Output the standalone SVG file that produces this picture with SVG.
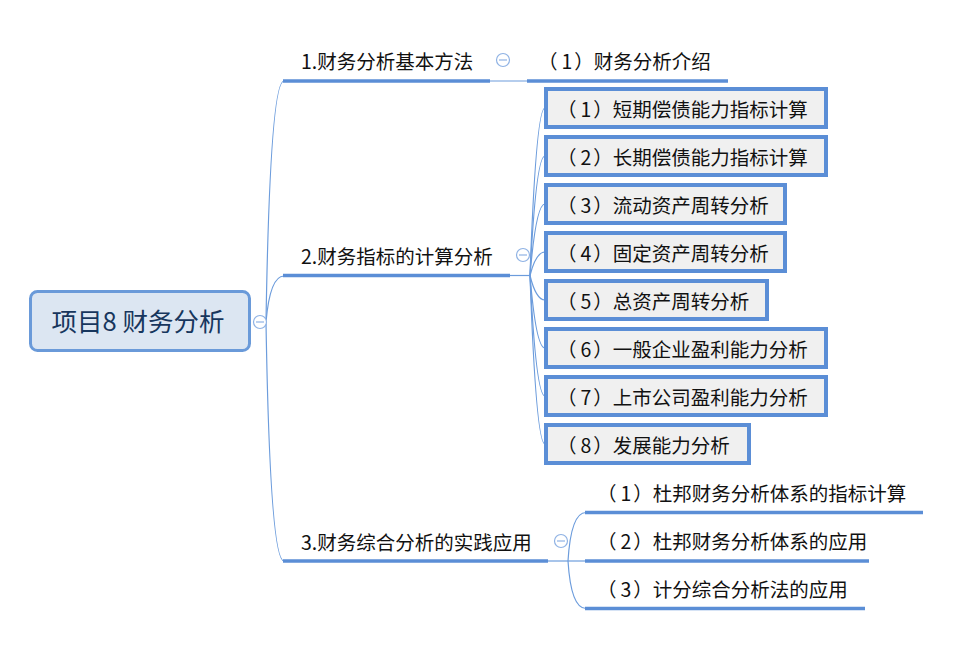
<svg xmlns="http://www.w3.org/2000/svg" width="974" height="647" viewBox="0 0 974 647">
<style>
text{font-family:"Noto Sans CJK SC","Microsoft YaHei",sans-serif;fill:#111;}
.t{font-size:19.5px;}
.root{font-size:25.5px;fill:#17365d;}
.ul{stroke:#5b8ed6;stroke-width:3.5;fill:none;}
.ln{stroke:#6c9cdc;stroke-width:1.2;fill:none;}
.box{fill:#f0f0f0;stroke:#5b8ed6;stroke-width:4;}
.col circle{fill:#fff;stroke:#8fb2e4;stroke-width:1.2;}
.col line{stroke:#8fb2e4;stroke-width:1.2;}
</style>
<rect width="974" height="647" fill="#fff"/>
<g id="connectors">
<path class="ln" d="M266,322 Q270,81 284,81"/>
<path class="ln" d="M266,322 Q270,276 284,276"/>
<path class="ln" d="M266,322 Q270,561 284,561"/>
<path class="ln" d="M490,81 H528"/>
<path class="ln" d="M510,275.5 H530"/>
<path class="ln" d="M530,275.5 Q536,108 545,108"/>
<path class="ln" d="M530,275.5 Q536,156 545,156"/>
<path class="ln" d="M530,275.5 Q536,204 545,204"/>
<path class="ln" d="M530,275.5 Q536,252 545,252"/>
<path class="ln" d="M530,275.5 Q536,300 545,300"/>
<path class="ln" d="M530,275.5 Q536,348 545,348"/>
<path class="ln" d="M530,275.5 Q536,396 545,396"/>
<path class="ln" d="M530,275.5 Q536,444 545,444"/>
<path class="ln" d="M548,561 H568"/>
<path class="ln" d="M568,561 Q571,512.5 586,512.5"/>
<path class="ln" d="M568,561 H586"/>
<path class="ln" d="M568,561 Q571,608.5 586,608.5"/>
</g>
<g id="root">
<rect x="30.5" y="291.5" width="219" height="59" rx="7" fill="#dce6f2" stroke="#6a9ad9" stroke-width="3"/>
<text class="root" x="138" y="331" text-anchor="middle">项目8 财务分析</text>
<g class="col"><circle cx="260" cy="322" r="6.5"/><line x1="256" y1="322" x2="264" y2="322"/></g>
</g>
<g id="b1">
<text class="t" x="301" y="69">1.财务分析基本方法</text>
<line class="ul" x1="283" y1="81" x2="490" y2="81"/>
<g class="col"><circle cx="503" cy="60" r="6.5"/><line x1="499" y1="60" x2="507" y2="60"/></g>
</g>
<g id="b1c1">
<text class="t" x="538" y="69">（<tspan dx="4">1</tspan><tspan dx="2">）</tspan>财务分析介绍</text>
<line class="ul" x1="527" y1="81" x2="728" y2="81"/>
</g>
<g id="b2">
<text class="t" x="301" y="264">2.财务指标的计算分析</text>
<line class="ul" x1="283" y1="275.5" x2="510" y2="275.5"/>
<g class="col"><circle cx="523" cy="255" r="6.5"/><line x1="519" y1="255" x2="527" y2="255"/></g>
</g>
<g id="b2c1"><rect class="box" x="546" y="89" width="280" height="38"/><text class="t" x="557" y="117">（<tspan dx="4">1</tspan><tspan dx="2">）</tspan>短期偿债能力指标计算</text></g>
<g id="b2c2"><rect class="box" x="546" y="137" width="280" height="38"/><text class="t" x="557" y="165">（<tspan dx="4">2</tspan><tspan dx="2">）</tspan>长期偿债能力指标计算</text></g>
<g id="b2c3"><rect class="box" x="546" y="185" width="239" height="38"/><text class="t" x="557" y="213">（<tspan dx="4">3</tspan><tspan dx="2">）</tspan>流动资产周转分析</text></g>
<g id="b2c4"><rect class="box" x="546" y="233" width="239" height="38"/><text class="t" x="557" y="261">（<tspan dx="4">4</tspan><tspan dx="2">）</tspan>固定资产周转分析</text></g>
<g id="b2c5"><rect class="box" x="546" y="281" width="221" height="38"/><text class="t" x="557" y="309">（<tspan dx="4">5</tspan><tspan dx="2">）</tspan>总资产周转分析</text></g>
<g id="b2c6"><rect class="box" x="546" y="329" width="280" height="38"/><text class="t" x="557" y="357">（<tspan dx="4">6</tspan><tspan dx="2">）</tspan>一般企业盈利能力分析</text></g>
<g id="b2c7"><rect class="box" x="546" y="377" width="280" height="38"/><text class="t" x="557" y="405">（<tspan dx="4">7</tspan><tspan dx="2">）</tspan>上市公司盈利能力分析</text></g>
<g id="b2c8"><rect class="box" x="546" y="425" width="203" height="38"/><text class="t" x="557" y="453">（<tspan dx="4">8</tspan><tspan dx="2">）</tspan>发展能力分析</text></g>
<g id="b3">
<text class="t" x="301" y="549.5">3.财务综合分析的实践应用</text>
<line class="ul" x1="283" y1="561" x2="548" y2="561"/>
<g class="col"><circle cx="561" cy="541" r="6.5"/><line x1="557" y1="541" x2="565" y2="541"/></g>
</g>
<g id="b3c1"><text class="t" x="597" y="500.5">（<tspan dx="4">1</tspan><tspan dx="2">）</tspan>杜邦财务分析体系的指标计算</text><line class="ul" x1="585" y1="512.5" x2="923" y2="512.5"/></g>
<g id="b3c2"><text class="t" x="597" y="548.5">（<tspan dx="4">2</tspan><tspan dx="2">）</tspan>杜邦财务分析体系的应用</text><line class="ul" x1="585" y1="561" x2="869" y2="561"/></g>
<g id="b3c3"><text class="t" x="597" y="596.5">（<tspan dx="4">3</tspan><tspan dx="2">）</tspan>计分综合分析法的应用</text><line class="ul" x1="585" y1="608.5" x2="865" y2="608.5"/></g>
</svg>
